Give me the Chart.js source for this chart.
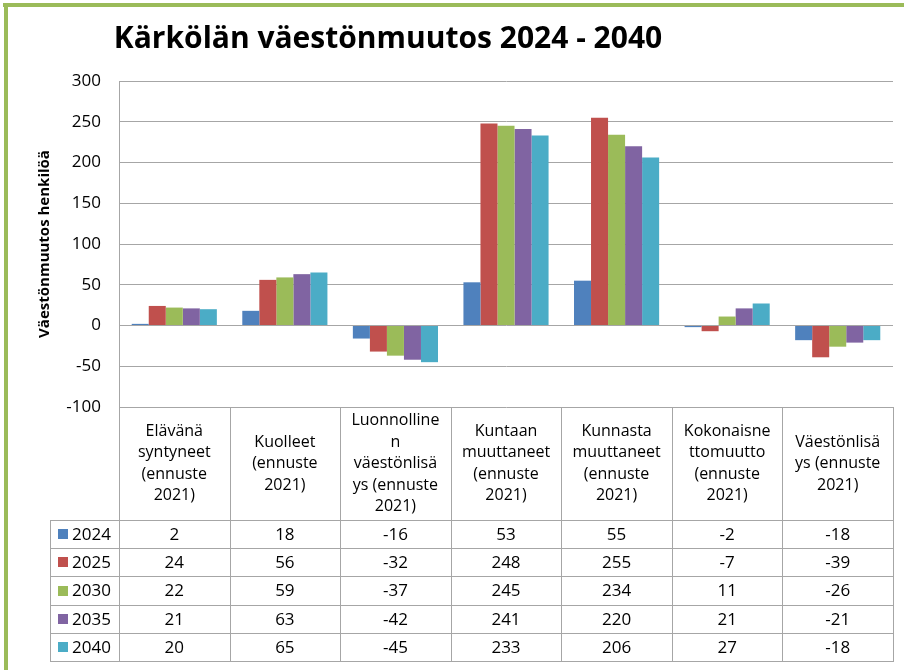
<!DOCTYPE html>
<html>
<head>
<meta charset="utf-8">
<script src="https://cdn.jsdelivr.net/npm/chart.js@4/dist/chart.umd.min.js"></script>
<style>
  html, body { margin: 0; padding: 0; background: #fff; }
  #wrap { width: 904px; height: 670px; }
</style>
</head>
<body>
<div id="wrap"><canvas id="popChart" width="904" height="670"></canvas></div>
<script>
/* ================================
   Data
================================ */
const categories = [
  ["Elävänä", "syntyneet", "(ennuste", "2021)"],
  ["Kuolleet", "(ennuste", "2021)"],
  ["Luonnolline", "n", "väestönlisä", "ys (ennuste", "2021)"],
  ["Kuntaan", "muuttaneet", "(ennuste", "2021)"],
  ["Kunnasta", "muuttaneet", "(ennuste", "2021)"],
  ["Kokonaisne", "ttomuutto", "(ennuste", "2021)"],
  ["Väestönlisä", "ys (ennuste", "2021)"]
];
const years = ["2024", "2025", "2030", "2035", "2040"];
const values2024 = [2, 18, -16, 53, 55, -2, -18];
const values2025 = [24, 56, -32, 248, 255, -7, -39];
const values2030 = [22, 59, -37, 245, 234, 11, -26];
const values2035 = [21, 63, -42, 241, 220, 21, -21];
const values2040 = [20, 65, -45, 233, 206, 27, -18];
const yMin = -100;
const yMax = 300;
const yStep = 50;

const titleText = "Kärkölän väestönmuutos 2024 - 2040";
const yTitleText = "Väestönmuutos henkilöä";

/* ================================
   Styles
================================ */
const FONT = "'Open Sans', 'Noto Sans', sans-serif";
const colors = ["#4F81BD", "#C0504D", "#9BBB59", "#8064A2", "#4BACC6"];
const lineColor = "#a6a6a6";

const series = [values2024, values2025, values2030, values2035, values2040];

/* ================================
   Plugins: frame, title, data table
================================ */
const frame = {
  id: "frame",
  beforeDraw(chart) {
    const ctx = chart.ctx;
    ctx.save();
    ctx.fillStyle = "#9BBB59";
    ctx.fillRect(3, 3, chart.width, 4);
    ctx.fillRect(4, 3, 4, chart.height);
    ctx.restore();
  },
  afterDraw(chart) {
    const ctx = chart.ctx;
    ctx.save();
    ctx.fillStyle = "#000";
    ctx.font = `bold 30px ${FONT}`;
    ctx.textAlign = "center";
    ctx.textBaseline = "middle";
    ctx.fillText(titleText, 388, 39);
    ctx.restore();
  }
};

const dataTable = {
  id: "dataTable",
  afterDraw(chart) {
    const { ctx, chartArea, scales: { x } } = chart;
    const top = chartArea.bottom;
    const headBottom = 520;
    const rowH = 28.2;
    const bottom = headBottom + rowH * years.length;
    const legendLeft = 50;
    const n = categories.length;

    const edges = [chartArea.left];
    for (let i = 1; i < n; i++) {
      edges.push((x.getPixelForValue(i - 1) + x.getPixelForValue(i)) / 2);
    }
    edges.push(chartArea.right);

    ctx.save();
    ctx.strokeStyle = lineColor;
    ctx.lineWidth = 1;
    ctx.beginPath();
    edges.forEach(ex => {
      const px = Math.round(ex) + 0.5;
      ctx.moveTo(px, top);
      ctx.lineTo(px, bottom);
    });
    ctx.moveTo(legendLeft + 0.5, headBottom);
    ctx.lineTo(legendLeft + 0.5, bottom);
    for (let r = 0; r <= years.length; r++) {
      const py = Math.round(headBottom + r * rowH) + 0.5;
      ctx.moveTo(legendLeft, py);
      ctx.lineTo(chartArea.right + 1, py);
    }
    ctx.stroke();

    // header labels
    ctx.fillStyle = "#000";
    ctx.textAlign = "center";
    ctx.textBaseline = "middle";
    ctx.font = `16px ${FONT}`;
    const headMid = (top + headBottom) / 2;
    const lh = 21.5;
    categories.forEach((lines, i) => {
      const cx = x.getPixelForValue(i);
      const y0 = headMid - (lines.length - 1) * lh / 2;
      lines.forEach((t, k) => ctx.fillText(t, cx, y0 + k * lh));
    });

    // rows
    ctx.font = `17px ${FONT}`;
    years.forEach((yr, r) => {
      const cy = headBottom + r * rowH + rowH / 2;
      ctx.fillStyle = colors[r];
      ctx.fillRect(58, Math.round(cy) - 5, 10, 10);
      ctx.fillStyle = "#000";
      ctx.textAlign = "left";
      ctx.fillText(yr, 72, cy + 1);
      ctx.textAlign = "center";
      series[r].forEach((v, i) => {
        ctx.fillText(String(v), x.getPixelForValue(i), cy + 1);
      });
    });
    ctx.restore();
  }
};

/* ================================
   Chart
================================ */
new Chart(document.getElementById("popChart"), {
  type: "bar",
  data: {
    labels: categories.map(c => c.join(" ")),
    datasets: years.map((yr, i) => ({
      label: yr,
      data: series[i],
      backgroundColor: colors[i],
      barPercentage: 1,
      categoryPercentage: 0.77
    }))
  },
  options: {
    responsive: false,
    animation: false,
    devicePixelRatio: 1,
    layout: { padding: { top: 81, right: 11, bottom: 263, left: 0 } },
    plugins: {
      legend: { display: false },
      tooltip: { enabled: false },
      title: { display: false }
    },
    scales: {
      x: { display: false },
      y: {
        min: yMin,
        max: yMax,
        ticks: {
          stepSize: yStep,
          color: "#000",
          font: { family: FONT, size: 17 },
          padding: 18
        },
        grid: { color: lineColor, drawTicks: false },
        border: { color: lineColor },
        title: {
          display: true,
          text: yTitleText,
          color: "#000",
          font: { family: FONT, size: 15, weight: "bold" },
          padding: { top: 36, bottom: 0 }
        },
        afterFit(scale) { scale.width = 119; }
      }
    }
  },
  plugins: [frame, dataTable]
});
</script>
</body>
</html>
